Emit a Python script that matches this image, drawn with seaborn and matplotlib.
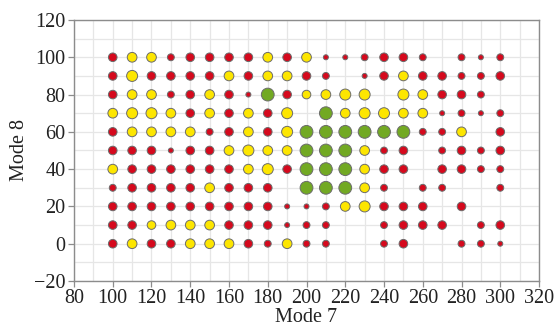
import matplotlib
matplotlib.use("Agg")
import matplotlib.pyplot as plt
import seaborn as sns
import pandas as pd
from matplotlib.ticker import MultipleLocator

# ---- data ----
mode7 = list(range(100, 301, 10))          # x positions (columns)
mode8 = list(range(100, -1, -10))          # y positions (rows, top to bottom)

# R = red, Y = yellow, G = green, '-' = no point
colour_rows = [
    "RYYRRRRRYRY" + "RRRRRR-RRR",   # 100
    "RYRRRRYRYYR" + "R-RRYRRRRR",   # 90
    "RYYRRYRRGRY" + "YYY-YYRRR-",   # 80
    "YYYYRYRYRY-" + "GYYYYYRRRR",   # 70
    "RYYYYRRYRYG" + "GGGGGRRY-R",   # 60
    "RRRRRRYYYYG" + "GGYRR-RRRR",   # 50
    "YRRRRRRYYRG" + "GGYRR-RRRR",   # 40
    "RRRRRYRRR-G" + "GGYR-RR--R",   # 30
    "RRRRRRRRRRR" + "RYYRRR-R--",   # 20
    "RRYYYYRRRRR" + "R--RRRR-RR",   # 10
    "RYRRYYYRRYR" + "R--RR--RRR",   # 0
]
size_rows = [
    "34423333434" + "1123320212",
    "35333343443" + "2013433223",
    "34423431633" + "4550543320",
    "45543434350" + "6455441212",
    "34444234356" + "6666622403",
    "33313345446" + "6642302323",
    "43333334536" + "6643303322",
    "23333433306" + "6642022002",
    "33333333311" + "2453330300",
    "33344433312" + "2002333023",
    "34334443242" + "2002300221",
]

recs = []
for yi, y in enumerate(mode8):
    for xi, x in enumerate(mode7):
        c = colour_rows[yi][xi]
        if c == "-":
            continue
        recs.append({"Mode 7": x, "Mode 8": y, "cat": c, "lvl": int(size_rows[yi][xi])})
df = pd.DataFrame(recs)

palette = {"R": "#d5091d", "Y": "#fde600", "G": "#72a923"}
diam_px = {1: 5.0, 2: 6.9, 3: 8.6, 4: 9.7, 5: 11.0, 6: 12.8}
sizes = {k: (v * 0.72) ** 2 for k, v in diam_px.items()}

# ---- plot ----
sns.set_style("white")
plt.rcParams["font.family"] = ["Liberation Serif", "DejaVu Serif"]

fig = plt.figure(figsize=(5.58, 3.32), dpi=100)
ax = fig.add_axes([0.1326, 0.1536, 0.8334, 0.7862])

sns.scatterplot(data=df, x="Mode 7", y="Mode 8", hue="cat", size="lvl",
                palette=palette, sizes=sizes, edgecolor="#6b6b6b", linewidth=0.7,
                legend=False, ax=ax, zorder=3)

ax.set_xlim(80, 320)
ax.set_ylim(-20, 120)
ax.xaxis.set_major_locator(MultipleLocator(20))
ax.yaxis.set_major_locator(MultipleLocator(20))
ax.xaxis.set_minor_locator(MultipleLocator(10))
ax.yaxis.set_minor_locator(MultipleLocator(10))
ax.grid(True, which="both", color="#e6e6e6", linewidth=0.9, zorder=0)
ax.set_axisbelow(True)

for s in ax.spines.values():
    s.set_color("#8c8c8c")
    s.set_linewidth(1.0)

ax.tick_params(axis="both", which="major", direction="out", length=4, width=0.9,
               color="#8c8c8c", labelsize=14.5, labelcolor="#222222", pad=2)
ax.tick_params(axis="both", which="minor", length=0)
ax.tick_params(left=True, bottom=True)

ax.set_xlabel("Mode 7", fontsize=14.5, color="#222222", labelpad=0)
ax.set_ylabel("Mode 8", fontsize=14.5, color="#222222", labelpad=4)

fig.savefig("out.png", dpi=100)
